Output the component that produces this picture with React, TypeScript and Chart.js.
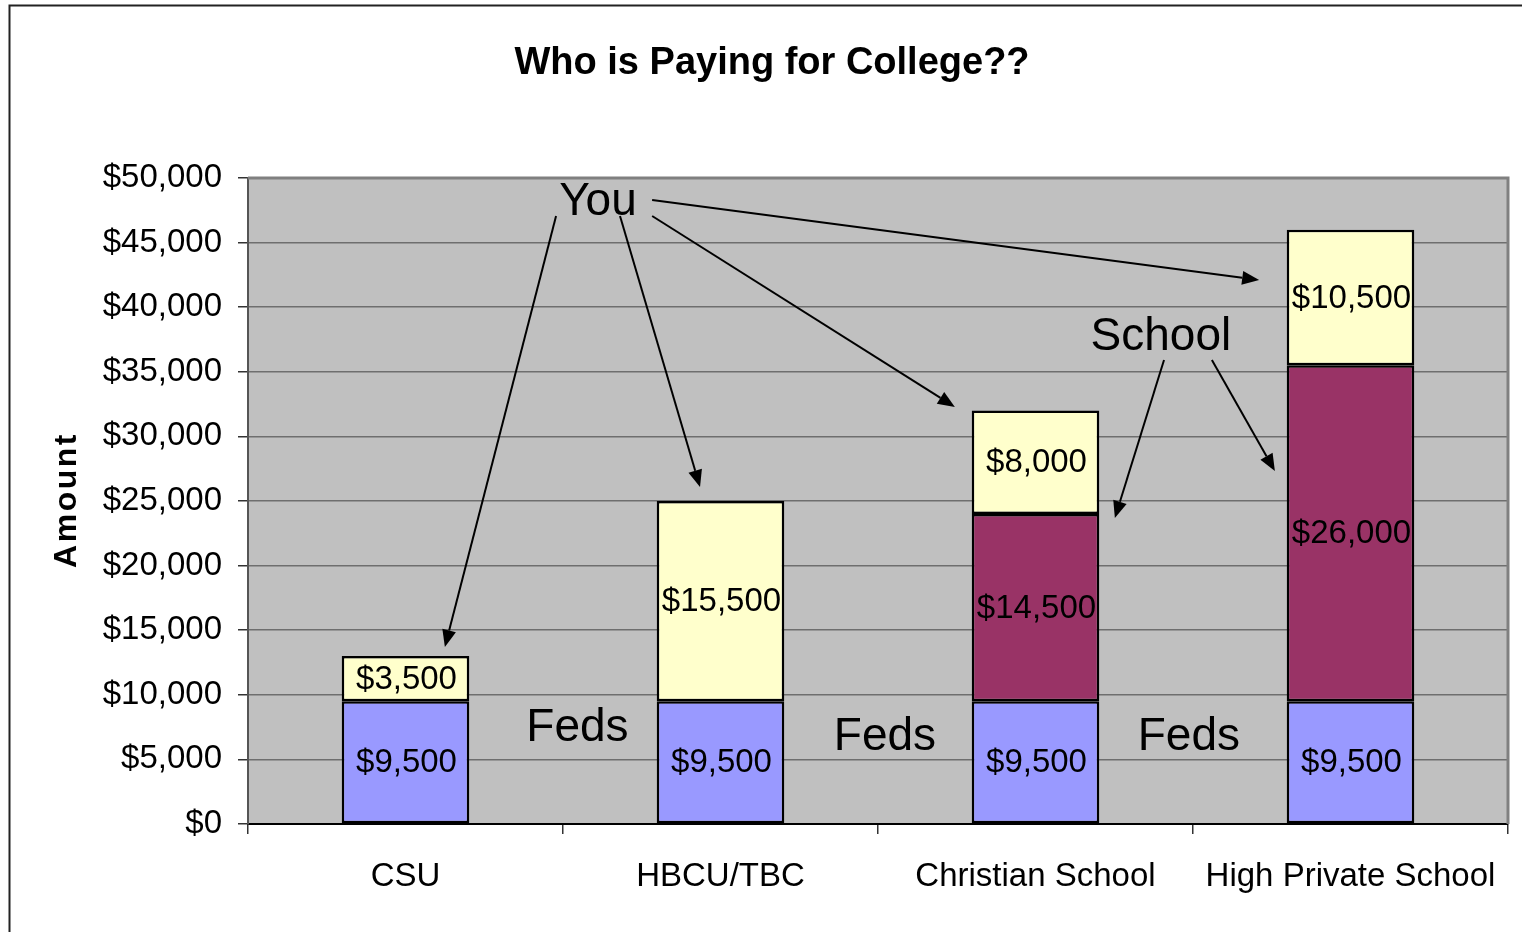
import React, { useEffect, useRef } from "react";
import { Chart, registerables } from "chart.js";

Chart.register(...registerables);

// ---------- data ----------
const categories = ["CSU", "HBCU/TBC", "Christian School", "High Private School"];
const fedsValues = [9500, 9500, 9500, 9500];
const schoolValues = [0, 0, 14500, 26000];
const youValues = [3500, 15500, 8000, 10500];
const yMin = 0;
const yMax = 50000;
const yStep = 5000;

const titleText = "Who is Paying for College??";
const yAxisTitle = "Amount";

// annotation labels, in data units (x = category index, y = dollars)
const annotationLabels = [
  { text: "You", x: 0.611, y: 48300 },
  { text: "School", x: 2.398, y: 37850 },
  { text: "Feds", x: 0.546, y: 7550 },
  { text: "Feds", x: 1.522, y: 6890 },
  { text: "Feds", x: 2.487, y: 6890 },
];

// arrows, in data units: from [x, y] to [x, y]
const annotationArrows = [
  { from: [0.478, 47060], to: [0.125, 13700] },
  { from: [0.681, 47060], to: [0.935, 26080] },
  { from: [0.783, 47060], to: [1.744, 32280] },
  { from: [0.783, 48300], to: [2.71, 42100] },
  { from: [2.408, 35910], to: [2.252, 23680] },
  { from: [2.56, 35910], to: [2.76, 27320] },
];

const FONT = '"Liberation Sans", Arial, Helvetica, sans-serif';
const W = 1522;
const H = 932;

const fmt = (v: number) => "$" + v.toLocaleString("en-US");

const decorPlugin = {
  id: "decor",
  beforeDraw(chart: any) {
    const { ctx, chartArea } = chart;
    ctx.save();
    ctx.fillStyle = "#ffffff";
    ctx.fillRect(0, 0, W, H);
    // outer frame
    ctx.strokeStyle = "#222222";
    ctx.lineWidth = 2;
    ctx.beginPath();
    ctx.moveTo(9.5, H);
    ctx.lineTo(9.5, 5.5);
    ctx.lineTo(W, 5.5);
    ctx.stroke();
    // plot background
    ctx.fillStyle = "#C0C0C0";
    ctx.fillRect(
      chartArea.left,
      chartArea.top,
      chartArea.right - chartArea.left,
      chartArea.bottom - chartArea.top
    );
    ctx.restore();
  },
  afterDatasetsDraw(chart: any) {
    const { ctx, chartArea } = chart;
    const xs = chart.scales.x;
    const ys = chart.scales.y;
    ctx.save();
    // plot-area border (top & right)
    ctx.strokeStyle = "#808080";
    ctx.lineWidth = 3;
    ctx.beginPath();
    ctx.moveTo(chartArea.left, chartArea.top);
    ctx.lineTo(chartArea.right, chartArea.top);
    ctx.lineTo(chartArea.right, chartArea.bottom);
    ctx.stroke();

    // value labels inside bars
    ctx.fillStyle = "#000000";
    ctx.font = `33px ${FONT}`;
    ctx.textAlign = "center";
    ctx.textBaseline = "middle";
    chart.data.datasets.forEach((ds: any, di: number) => {
      const meta = chart.getDatasetMeta(di);
      meta.data.forEach((bar: any, i: number) => {
        const v = ds.data[i];
        if (!v) return;
        const cy = (bar.y + bar.base) / 2;
        ctx.fillText(fmt(v), bar.x + 1, cy + 1);
      });
    });

    // annotation labels
    ctx.font = `46px ${FONT}`;
    annotationLabels.forEach((a) => {
      ctx.fillText(a.text, xs.getPixelForValue(a.x), ys.getPixelForValue(a.y) + 2);
    });

    // arrows
    ctx.strokeStyle = "#000000";
    ctx.fillStyle = "#000000";
    ctx.lineWidth = 2;
    annotationArrows.forEach((a) => {
      const x1 = xs.getPixelForValue(a.from[0]);
      const y1 = ys.getPixelForValue(a.from[1]);
      const x2 = xs.getPixelForValue(a.to[0]);
      const y2 = ys.getPixelForValue(a.to[1]);
      const ang = Math.atan2(y2 - y1, x2 - x1);
      const len = 17;
      const hw = 7;
      const bx = x2 - len * Math.cos(ang);
      const by = y2 - len * Math.sin(ang);
      ctx.beginPath();
      ctx.moveTo(x1, y1);
      ctx.lineTo(bx, by);
      ctx.stroke();
      ctx.beginPath();
      ctx.moveTo(x2, y2);
      ctx.lineTo(bx + hw * Math.sin(ang), by - hw * Math.cos(ang));
      ctx.lineTo(bx - hw * Math.sin(ang), by + hw * Math.cos(ang));
      ctx.closePath();
      ctx.fill();
    });

    // title
    ctx.font = `bold 38px ${FONT}`;
    ctx.fillText(titleText, 772, 64);

    // y axis title
    ctx.save();
    ctx.translate(67, (chartArea.top + chartArea.bottom) / 2);
    ctx.rotate(-Math.PI / 2);
    ctx.font = `bold 32px ${FONT}`;
    try {
      (ctx as any).letterSpacing = "2.5px";
    } catch (e) {}
    ctx.fillText(yAxisTitle, 1, 0);
    ctx.restore();

    ctx.restore();
  },
};

export default function App() {
  const ref = useRef<HTMLCanvasElement | null>(null);

  useEffect(() => {
    if (!ref.current) return;
    const chart = new Chart(ref.current, {
      type: "bar",
      data: {
        labels: categories,
        datasets: [
          {
            label: "Feds",
            data: fedsValues,
            backgroundColor: "#9999FF",
            borderColor: "#000000",
            borderWidth: 2.5,
            borderSkipped: false,
          },
          {
            label: "School",
            data: schoolValues,
            backgroundColor: "#993366",
            borderColor: "#000000",
            borderWidth: 2.5,
            borderSkipped: false,
          },
          {
            label: "You",
            data: youValues,
            backgroundColor: "#FFFFCC",
            borderColor: "#000000",
            borderWidth: 2.5,
            borderSkipped: false,
          },
        ],
      },
      options: {
        responsive: false,
        animation: false,
        devicePixelRatio: 1,
        layout: { padding: { left: 0, top: 178, right: 14, bottom: 0 } },
        datasets: { bar: { barPercentage: 0.405, categoryPercentage: 1 } },
        plugins: {
          legend: { display: false },
          title: { display: false },
          tooltip: { enabled: false },
        },
        scales: {
          x: {
            stacked: true,
            grid: {
              drawOnChartArea: false,
              drawTicks: true,
              tickLength: 10,
              tickColor: "#333333",
              lineWidth: 1.5,
              offset: true,
            },
            border: { display: true, color: "#000000", width: 2 },
            ticks: {
              color: "#000000",
              font: { family: FONT, size: 33 },
              padding: 23,
              maxRotation: 0,
              autoSkip: false,
            },
            afterFit: (scale: any) => {
              scale.height = H - 824;
            },
          },
          y: {
            stacked: true,
            min: yMin,
            max: yMax,
            grid: {
              color: "#6e6e6e",
              lineWidth: 1.5,
              tickLength: 10,
              tickColor: "#333333",
            },
            border: { display: true, color: "#555555", width: 2 },
            ticks: {
              stepSize: yStep,
              color: "#000000",
              font: { family: FONT, size: 33 },
              padding: 16,
              callback: (v: any) => fmt(Number(v)),
            },
            afterFit: (scale: any) => {
              scale.width = 248;
            },
          },
        },
      },
      plugins: [decorPlugin],
    });
    return () => chart.destroy();
  }, []);

  return (
    <div style={{ position: "absolute", left: 0, top: 0, width: W, height: H, background: "#fff" }}>
      <canvas ref={ref} width={W} height={H} style={{ display: "block" }} />
    </div>
  );
}
